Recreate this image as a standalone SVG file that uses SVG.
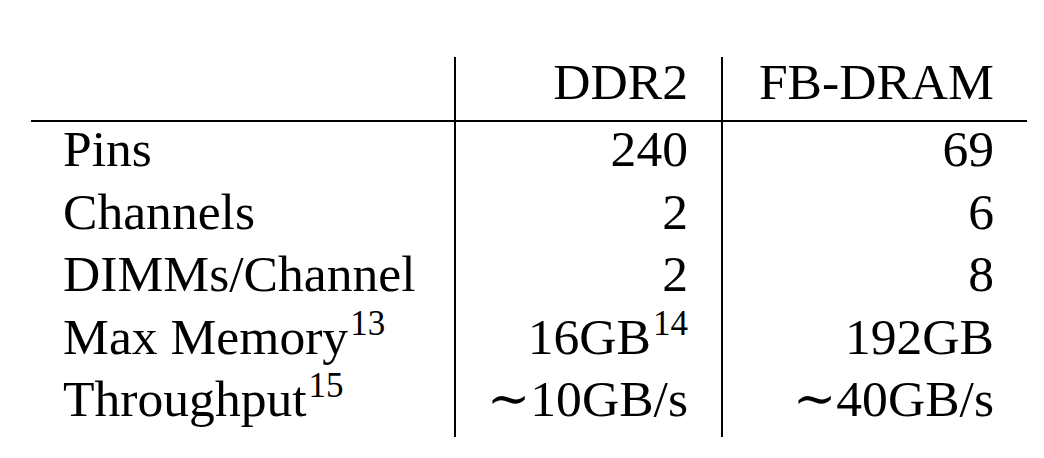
<svg xmlns="http://www.w3.org/2000/svg" width="1044" height="458" viewBox="0 0 1044 458">
<style>
text{font-family:'Liberation Serif','Times New Roman',Times,'DejaVu Serif',serif;font-size:51.6px;fill:#000}
.r{text-anchor:end}
.sup{font-size:35px}
.sim{font-family:'DejaVu Serif','Liberation Serif',serif}
line{stroke:#000;stroke-width:2}
</style>
<rect width="1044" height="458" fill="#fff"/>
<g id="rules">
<line x1="31" y1="121" x2="1027" y2="121"/>
<line x1="455" y1="57" x2="455" y2="437"/>
<line x1="722" y1="57" x2="722" y2="437"/>
</g>
<g id="header">
<text class="r" x="688" y="99">DDR2</text>
<text class="r" x="994" y="99">FB-DRAM</text>
</g>
<g id="row-pins">
<text x="63" y="166">Pins</text>
<text class="r" x="688" y="166">240</text>
<text class="r" x="994" y="166">69</text>
</g>
<g id="row-channels">
<text x="63" y="228.5">Channels</text>
<text class="r" x="688" y="228.5">2</text>
<text class="r" x="994" y="228.5">6</text>
</g>
<g id="row-dimms">
<text x="63" y="291">DIMMs/Channel</text>
<text class="r" x="688" y="291">2</text>
<text class="r" x="994" y="291">8</text>
</g>
<g id="row-maxmem">
<text x="63" y="353.5">Max Memory<tspan class="sup" dx="2" dy="-19">13</tspan></text>
<text class="r" x="688" y="353.5">16GB<tspan class="sup" dx="2" dy="-19">14</tspan></text>
<text class="r" x="994" y="353.5">192GB</text>
</g>
<g id="row-throughput">
<text x="63" y="416">Throughput<tspan class="sup" dx="2" dy="-19">15</tspan></text>
<text class="r" x="688" y="416"><tspan class="sim">∼</tspan>10GB/s</text>
<text class="r" x="994" y="416"><tspan class="sim">∼</tspan>40GB/s</text>
</g>
</svg>
